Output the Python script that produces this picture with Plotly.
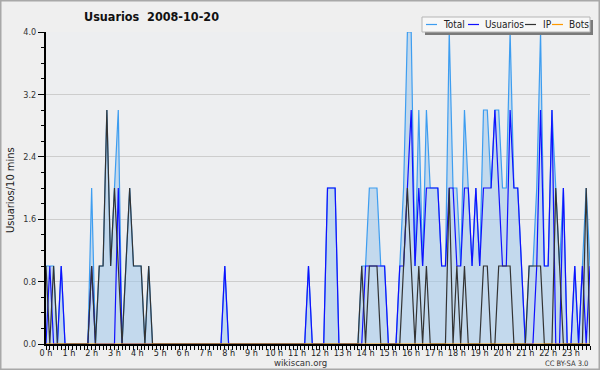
import plotly.graph_objects as go

# ---- data (10-minute slots, 144 per day) ----
hour_labels = [f"{h} h" for h in range(24)]

usuarios = [
    0,1,0,0,1,0,0,0,0,0,0,0,
    1,0,0,0,0,0,0,2,0,0,0,0,
    0,0,0,0,0,0,0,0,0,0,0,0,
    0,0,0,0,0,0,0,0,0,0,0,1,
    0,0,0,0,0,0,0,0,0,0,0,0,
    0,0,0,0,0,0,0,0,0,1,0,0,
    0,0,2,2,2,0,0,0,0,0,0,0,
    1,1,1,1,1,1,0,0,0,1,1,2,
    3,1,2,1,2,2,2,2,1,1,2,2,
    1,1,2,2,1,2,1,2,2,2,3,2,
    1,1,3,2,2,1,0,0,0,1,3,1,
    1,3,0,0,2,0,0,1,0,1,0,1,
]
ip = [
    1,0,1,0,0,0,0,0,0,0,0,0,
    1,0,1,1,3,1,2,1,0,1,2,1,
    1,1,0,1,0,0,0,0,0,0,0,0,
    0,0,0,0,0,0,0,0,0,0,0,0,
    0,0,0,0,0,0,0,0,0,0,0,0,
    0,0,0,0,0,0,0,0,0,0,0,0,
    0,0,0,0,0,0,0,0,0,0,0,1,
    0,1,1,1,0,0,0,0,0,0,1,2,
    1,0,1,0,1,0,0,0,0,0,2,0,
    1,0,1,0,0,0,0,1,1,0,0,1,
    1,1,1,0,0,0,0,1,1,1,1,0,
    0,0,2,1,0,0,0,0,0,0,2,0,
]
total = [
    1,1,1,0,1,0,0,0,0,0,0,0,
    2,0,1,1,3,1,2,3,0,1,2,1,
    1,1,0,1,0,0,0,0,0,0,0,0,
    0,0,0,0,0,0,0,0,0,0,0,1,
    0,0,0,0,0,0,0,0,0,0,0,0,
    0,0,0,0,0,0,0,0,0,1,0,0,
    0,0,2,2,2,0,0,0,0,0,0,1,
    1,2,2,2,1,1,0,0,0,1,2,4,
    4,1,3,1,3,2,2,2,1,1,4,2,
    2,1,3,2,1,2,1,3,3,2,3,3,
    2,2,4,2,2,1,0,1,1,2,4,1,
    1,3,2,1,2,0,0,1,0,1,2,1,
]
bots = [0] * 144
slots = list(range(144))

y_ticks = [0.0, 0.8, 1.6, 2.4, 3.2, 4.0]

# ---- styling ----
C_TOTAL = "#3d9df0"
C_FILL = "rgba(160,200,235,0.55)"
C_USU = "#1010ff"
C_IP = "#333333"
C_BOTS = "#ff9900"
FONT = "DejaVu Sans Condensed, DejaVu Sans, sans-serif"

W, H = 600, 370
ML, MR, MT, MB = 46, 10, 32, 26
PW, PH = W - ML - MR, H - MT - MB


def px(x):
    return (x - ML) / PW


def py(y):
    return (H - MB - y) / PH


fig = go.Figure()
fig.add_trace(go.Scatter(x=slots, y=total, mode="lines", name="Total",
                         line=dict(color=C_TOTAL, width=1.2),
                         fill="tozeroy", fillcolor=C_FILL))
fig.add_trace(go.Scatter(x=slots, y=usuarios, mode="lines", name="Usuarios",
                         line=dict(color=C_USU, width=1.2)))
fig.add_trace(go.Scatter(x=slots, y=ip, mode="lines", name="IP",
                         line=dict(color=C_IP, width=1.2)))
fig.add_trace(go.Scatter(x=slots, y=bots, mode="lines", name="Bots",
                         line=dict(color=C_BOTS, width=1.2)))

fig.update_layout(
    width=W, height=H,
    margin=dict(l=ML, r=MR, t=MT, b=MB, pad=0, autoexpand=False),
    paper_bgcolor="#efefef",
    plot_bgcolor="#edeef0",
    showlegend=False,
    font=dict(family=FONT, color="#222", size=10),
)
fig.update_xaxes(
    range=[0, 143], automargin=False,
    tickvals=[h * 6 for h in range(24)], ticktext=hour_labels,
    tickfont=dict(size=9, color="#222", family=FONT),
    ticklabelstandoff=-5,
    showgrid=False, zeroline=False,
    showline=True, linecolor="black", linewidth=2,
    ticks="outside", ticklen=4, tickcolor="black", tickwidth=1,
    minor=dict(dtick=1, ticks="outside", ticklen=4, tickcolor="black", tickwidth=1, showgrid=False),
)
fig.update_yaxes(
    range=[0, 4], automargin=False,
    tickvals=y_ticks, ticktext=[f"{v:.1f}" for v in y_ticks],
    tickfont=dict(size=9, color="#333", family=FONT),
    showgrid=True, gridcolor="#cdcdcd", gridwidth=1, zeroline=False,
    showline=True, linecolor="black", linewidth=2,
    ticks="outside", ticklen=6, tickcolor="black", tickwidth=1,
    minor=dict(dtick=0.2, ticks="outside", ticklen=3, tickcolor="black", tickwidth=1, showgrid=False),
)

ann = []
ann.append(dict(x=px(151), y=py(17), xref="paper", yref="paper", text="<b>Usuarios  2008-10-20</b>",
                showarrow=False, font=dict(size=12.5, color="#111", family=FONT),
                xanchor="center", yanchor="middle"))
ann.append(dict(x=px(10), y=py(190), xref="paper", yref="paper", text="Usuarios/10 mins",
                showarrow=False, textangle=-90, font=dict(size=11, color="#222", family=FONT),
                xanchor="center", yanchor="middle"))
ann.append(dict(x=px(300), y=py(362.5), xref="paper", yref="paper", text="wikiscan.org",
                showarrow=False, font=dict(size=9.5, color="#333", family=FONT),
                xanchor="center", yanchor="middle"))
ann.append(dict(x=px(590), y=py(363), xref="paper", yref="paper", text="CC BY-SA 3.0",
                showarrow=False, font=dict(size=7.5, color="#333", family=FONT),
                xanchor="right", yanchor="middle"))

shapes = []
# outer frame
shapes.append(dict(type="rect", xref="paper", yref="paper", x0=px(0.5), x1=px(599.5), y0=py(369.5), y1=py(0.5),
                   line=dict(color="#a8a8a8", width=2), fillcolor="rgba(0,0,0,0)", layer="above"))
# legend shadow and box
shapes.append(dict(type="rect", xref="paper", yref="paper", x0=px(425), x1=px(593), y0=py(35), y1=py(20),
                   line=dict(width=0), fillcolor="#7a7a7a", layer="above"))
shapes.append(dict(type="rect", xref="paper", yref="paper", x0=px(422), x1=px(590), y0=py(32), y1=py(17),
                   line=dict(color="#b5b5b5", width=1), fillcolor="#f7f7f7", layer="above"))
legend_items = [("Total", C_TOTAL, 426, 441), ("Usuarios", C_USU, 468, 483),
                ("IP", C_IP, 525, 541), ("Bots", C_BOTS, 552, 567)]
for name, col, lx, tx in legend_items:
    shapes.append(dict(type="line", xref="paper", yref="paper", x0=px(lx), x1=px(lx + 11),
                       y0=py(24.5), y1=py(24.5), line=dict(color=col, width=1.2), layer="above"))
    ann.append(dict(x=px(tx), y=py(24.5), xref="paper", yref="paper", text=name, showarrow=False,
                    font=dict(size=10, color="#222", family=FONT), xanchor="left", yanchor="middle"))

fig.update_layout(annotations=ann, shapes=shapes)
fig.write_html("out.html", config={"displayModeBar": False},
               post_script="document.body.style.margin='0';document.body.style.overflow='hidden';")
